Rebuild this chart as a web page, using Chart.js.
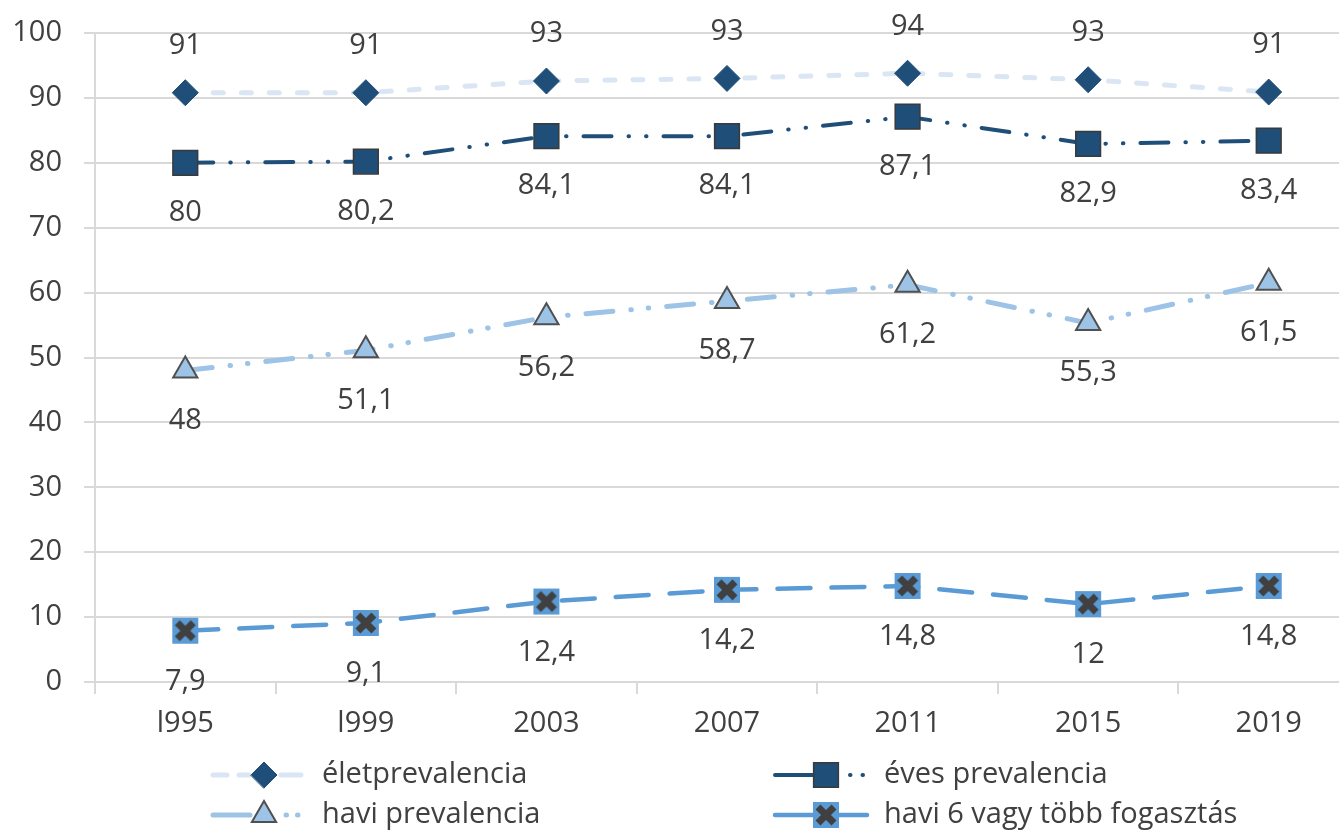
<!DOCTYPE html>
<html><head><meta charset="utf-8">
<script src="https://cdn.jsdelivr.net/npm/chart.js@4"></script>
<style>
html,body{margin:0;padding:0;overflow:hidden;background:#fff;width:1339px;height:832px}
#wrap{position:relative;width:1339px;height:832px;overflow:hidden}
#inner{position:absolute;left:0;top:0;width:1378px;height:832px}
canvas{display:block}
</style>
</head><body>
<div id="wrap"><div id="inner"><canvas id="c" width="1378" height="832"></canvas></div></div>
<script>
const categories = ['l995', 'l999', '2003', '2007', '2011', '2015', '2019'];
const eletPrevalencia = [90.8, 90.8, 92.6, 93.0, 93.8, 92.8, 90.9];
const evesPrevalencia = [80, 80.2, 84.1, 84.1, 87.1, 82.9, 83.4];
const haviPrevalencia = [48, 51.1, 56.2, 58.7, 61.2, 55.3, 61.5];
const havi6Fogasztas = [7.9, 9.1, 12.4, 14.2, 14.8, 12, 14.8];
const seriesNames = ['életprevalencia', 'éves prevalencia', 'havi prevalencia', 'havi 6 vagy több fogasztás'];
const yMin = 0, yMax = 100, yStep = 10;

const FONT = "'Open Sans', 'Noto Sans', sans-serif";
const FSIZE = 29;
const TXT = '#404040';
const GRID = '#d9d9d9';

function xSquare(size) {
  const c = document.createElement('canvas');
  c.width = c.height = size;
  const g = c.getContext('2d');
  g.fillStyle = '#5B9BD5';
  g.fillRect(1, 1, size - 2, size - 2);
  g.strokeStyle = '#404040';
  g.lineWidth = 7;
  const m = 6;
  g.beginPath();
  g.moveTo(m, m); g.lineTo(size - m, size - m);
  g.moveTo(size - m, m); g.lineTo(m, size - m);
  g.stroke();
  return c;
}
const xMark = xSquare(28);

const labelOffsets = [-47, 50, 50, 51];
function fmt(i, v) {
  if (i === 0) return String(Math.round(v));
  return String(v).replace('.', ',');
}

const dataLabels = {
  id: 'dataLabels',
  afterDatasetsDraw(chart) {
    const ctx = chart.ctx;
    ctx.save();
    ctx.font = FSIZE + 'px ' + FONT;
    ctx.fillStyle = TXT;
    ctx.textAlign = 'center';
    ctx.textBaseline = 'middle';
    chart.data.datasets.forEach((ds, i) => {
      chart.getDatasetMeta(i).data.forEach((pt, j) => {
        ctx.fillText(fmt(i, ds.data[j]), pt.x, pt.y + labelOffsets[i]);
      });
    });
    ctx.restore();
  }
};

const legendPos = [
  {x0: 213, y: 775, dash: [14, 12, 10, 32, 20, 200]},
  {x0: 775, y: 775, dash: [40, 35, 0.5, 12, 0.5, 200]},
  {x0: 213, y: 815, dash: [37, 36, 0.5, 11, 0.5, 200]},
  {x0: 775, y: 815, dash: []}
];
const customLegend = {
  id: 'customLegend',
  afterDraw(chart) {
    const ctx = chart.ctx;
    chart.data.datasets.forEach((ds, i) => {
      const p = legendPos[i];
      ctx.save();
      ctx.strokeStyle = ds.borderColor;
      ctx.lineWidth = ds.borderWidth;
      ctx.lineCap = 'round';
      ctx.setLineDash(p.dash);
      ctx.beginPath();
      ctx.moveTo(p.x0, p.y);
      ctx.lineTo(p.x0 + 92, p.y);
      ctx.stroke();
      ctx.setLineDash([]);
      ctx.fillStyle = ds.pointBackgroundColor;
      ctx.strokeStyle = ds.pointBorderColor;
      ctx.lineWidth = ds.pointBorderWidth;
      Chart.helpers.drawPoint(ctx, {pointStyle: ds.pointStyle, radius: ds.pointRadius, borderWidth: ds.pointBorderWidth, rotation: 0}, p.x0 + 51, p.y);
      ctx.font = FSIZE + 'px ' + FONT;
      ctx.fillStyle = TXT;
      ctx.textAlign = 'left';
      ctx.textBaseline = 'middle';
      ctx.fillText(seriesNames[i], p.x0 + 109, p.y);
      ctx.restore();
    });
  }
};

new Chart(document.getElementById('c'), {
  type: 'line',
  data: {
    labels: categories,
    datasets: [
      {
        label: seriesNames[0], data: eletPrevalencia,
        borderColor: '#DAE6F4', borderWidth: 5, borderDash: [10, 18], borderCapStyle: 'round',
        pointStyle: 'rectRot', pointRadius: 13, pointBackgroundColor: '#1F4E79', pointBorderColor: '#1F4E79', pointBorderWidth: 1
      },
      {
        label: seriesNames[1], data: evesPrevalencia,
        borderColor: '#1F4E79', borderWidth: 4, borderDash: [28, 17, 0.5, 17, 0.5, 17], borderCapStyle: 'round',
        pointStyle: 'rect', pointRadius: 17.5, pointBackgroundColor: '#1F4E79', pointBorderColor: '#3a3a3a', pointBorderWidth: 1.5
      },
      {
        label: seriesNames[2], data: haviPrevalencia,
        borderColor: '#9DC3E6', borderWidth: 5, borderDash: [27, 18, 0.5, 17, 0.5, 18], borderCapStyle: 'round',
        pointStyle: 'triangle', pointRadius: 14, pointBackgroundColor: '#9DC3E6', pointBorderColor: '#505050', pointBorderWidth: 2
      },
      {
        label: seriesNames[3], data: havi6Fogasztas,
        borderColor: '#5B9BD5', borderWidth: 4.5, borderDash: [33, 21], borderCapStyle: 'round',
        pointStyle: xMark, pointRadius: 14, pointBackgroundColor: '#5B9BD5', pointBorderColor: '#404040', pointBorderWidth: 0
      }
    ]
  },
  options: {
    responsive: false, animation: false, devicePixelRatio: 1,
    layout: {padding: {top: 33, left: 0, right: 0, bottom: 0}},
    plugins: {legend: {display: false}, tooltip: {enabled: false}},
    elements: {line: {tension: 0}},
    scales: {
      x: {
        offset: true,
        grid: {display: true, drawOnChartArea: false, drawTicks: true, tickLength: 12, offset: true, color: GRID, lineWidth: 2},
        border: {display: true, color: GRID, width: 2},
        ticks: {font: {family: FONT, size: FSIZE}, color: TXT, padding: 12, maxRotation: 0},
        afterFit: s => { s.height = 150; s.paddingLeft = 0; s.paddingRight = 0; }
      },
      y: {
        min: yMin, max: yMax,
        ticks: {stepSize: yStep, font: {family: FONT, size: FSIZE}, color: TXT, padding: 22},
        grid: {color: GRID, lineWidth: 2, tickLength: 11, drawTicks: true},
        border: {display: true, color: GRID, width: 2},
        afterFit: s => { s.width = 95; s.paddingTop = 0; s.paddingBottom = 0; }
      }
    }
  },
  plugins: [dataLabels, customLegend]
});
</script>
</body></html>
